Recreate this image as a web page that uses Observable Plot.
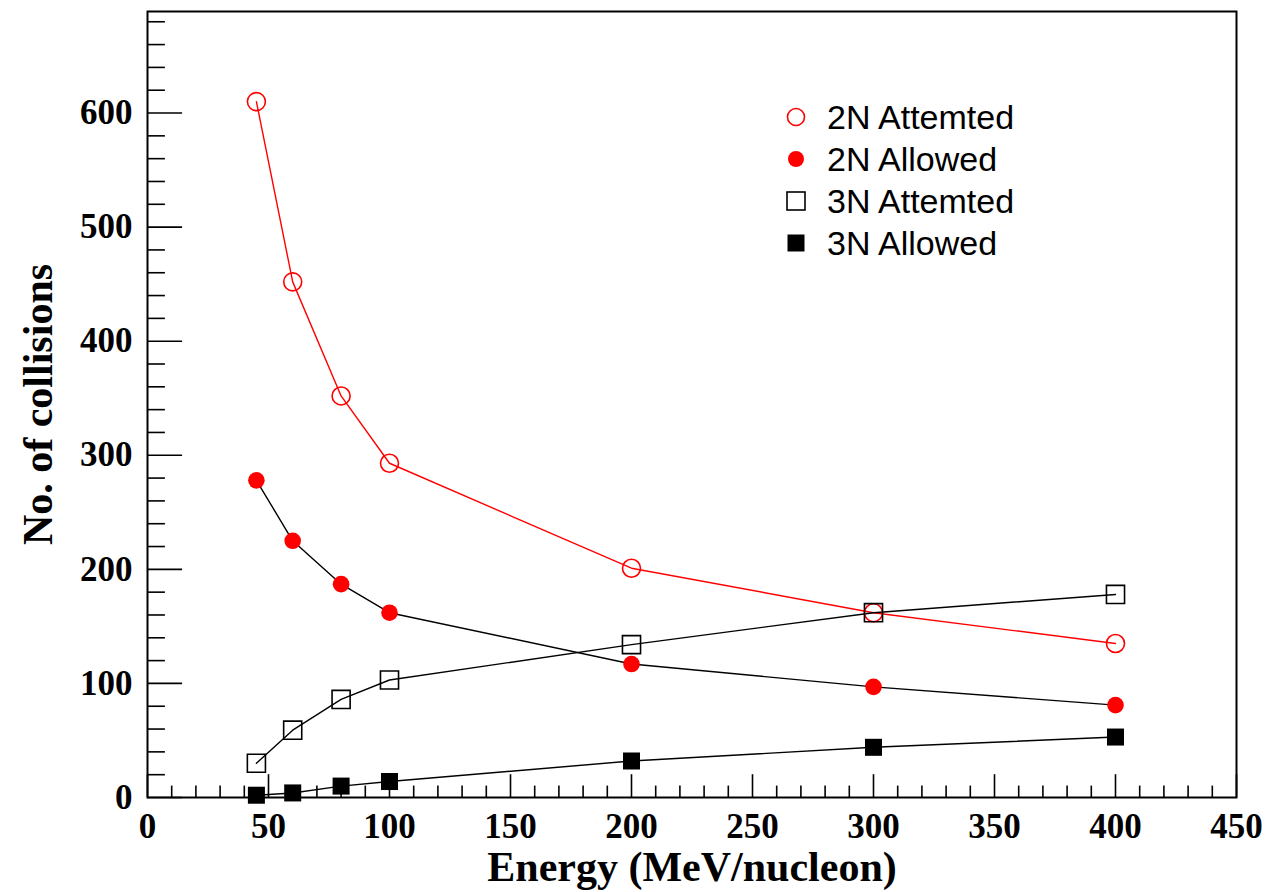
<!DOCTYPE html>
<html>
<head>
<meta charset="utf-8">
<script src="https://cdn.jsdelivr.net/npm/d3@7"></script>
<script src="https://cdn.jsdelivr.net/npm/@observablehq/plot@0.6"></script>
<style>
  html, body { margin: 0; padding: 0; background: #fff; }
  #wrap { position: relative; width: 1266px; height: 892px; }
  #legend { position: absolute; left: 776px; top: 96px; font-family: "Liberation Sans", Arial, sans-serif; font-size: 34px; color: #000; }
  #legend .row { height: 42px; display: flex; align-items: center; }
  #legend svg { width: 40px; height: 42px; margin-right: 11px; }
</style>
</head>
<body>
<div id="wrap">
  <div id="chart"></div>
  <div id="legend"></div>
</div>
<script>
// Beam energies (MeV/nucleon)
const energy = [45, 60, 80, 100, 200, 300, 400];

// Number of collisions per series
const attempted2N = [610, 452, 352, 293, 201, 162, 135];
const allowed2N   = [278, 225, 187, 162, 117, 97, 81];
const attempted3N = [30, 59, 86, 103, 134, 162, 178];
const allowed3N   = [2, 4, 10, 14, 32, 44, 53];

// Axis ticks
const xMajor = d3.range(0, 451, 50);
const xMinor = d3.range(0, 451, 10).filter(v => v % 50 !== 0);
const yMajor = d3.range(0, 601, 100);
const yMinor = d3.range(0, 681, 20).filter(v => v % 100 !== 0);

const seriesNames = ["2N Attemted", "2N Allowed", "3N Attemted", "3N Allowed"];
const seriesValues = [attempted2N, allowed2N, attempted3N, allowed3N];

const table = seriesNames.map((name, i) =>
  energy.map((e, j) => ({series: name, energy: e, count: seriesValues[i][j]}))
);

const RED = "#ff0000";
const BLK = "#000000";

const chart = Plot.plot({
  width: 1266,
  height: 892,
  marginLeft: 147,
  marginRight: 30,
  marginTop: 11,
  marginBottom: 95,
  style: {fontFamily: "'Liberation Serif', 'Times New Roman', serif", fontWeight: "bold", background: "#fff", overflow: "visible"},
  x: {domain: [0, 450]},
  y: {domain: [0, 689]},
  marks: [
    // inward tick marks on the bottom and left edges
    Plot.ruleX(xMinor, {y1: 0, y2: 10, stroke: BLK, strokeWidth: 1.6}),
    Plot.ruleX(xMajor, {y1: 0, y2: 20, stroke: BLK, strokeWidth: 1.6}),
    Plot.ruleY(yMinor, {x1: 0, x2: 7.4, stroke: BLK, strokeWidth: 1.6}),
    Plot.ruleY(yMajor, {x1: 0, x2: 14.5, stroke: BLK, strokeWidth: 1.6}),
    Plot.axisX({ticks: xMajor, tickSize: 0, tickPadding: 16, fontSize: 35, fontWeight: "bold", tickFormat: d => String(d), label: null}),
    Plot.axisY({ticks: yMajor, tickSize: 0, tickPadding: 15, fontSize: 35, fontWeight: "bold", tickFormat: d => String(d), label: null}),
    Plot.text(["Energy (MeV/nucleon)"], {frameAnchor: "bottom", textAnchor: "middle", dy: 83, fontSize: 42, fontWeight: "bold", fill: BLK}),
    Plot.text(["No. of collisions"], {frameAnchor: "left", textAnchor: "middle", dx: -109, rotate: -90, fontSize: 42, fontWeight: "bold", fill: BLK}),
    Plot.frame({stroke: BLK, strokeWidth: 2}),
    // connecting lines
    Plot.line(table[0], {x: "energy", y: "count", stroke: RED, strokeWidth: 1.4}),
    Plot.line(table[1], {x: "energy", y: "count", stroke: BLK, strokeWidth: 1.4}),
    Plot.line(table[2], {x: "energy", y: "count", stroke: BLK, strokeWidth: 1.4}),
    Plot.line(table[3], {x: "energy", y: "count", stroke: BLK, strokeWidth: 1.4}),
    // markers
    Plot.dot(table[0], {x: "energy", y: "count", r: 9, stroke: RED, fill: "none", strokeWidth: 1.6}),
    Plot.dot(table[1], {x: "energy", y: "count", r: 8.3, fill: RED, stroke: "none"}),
    Plot.dot(table[2], {x: "energy", y: "count", symbol: "square", r: 10.2, stroke: BLK, fill: "none", strokeWidth: 1.6}),
    Plot.dot(table[3], {x: "energy", y: "count", symbol: "square", r: 9.6, fill: BLK, stroke: "none"})
  ]
});
document.getElementById("chart").appendChild(chart);

// legend
const legendMarkers = [
  '<circle cx="20" cy="21" r="8.5" fill="none" stroke="' + RED + '" stroke-width="1.6"/>',
  '<circle cx="20" cy="21" r="8" fill="' + RED + '"/>',
  '<rect x="11" y="12" width="18" height="18" fill="none" stroke="' + BLK + '" stroke-width="1.6"/>',
  '<rect x="11.5" y="12.5" width="17" height="17" fill="' + BLK + '"/>'
];
const legend = document.getElementById("legend");
seriesNames.forEach((name, i) => {
  const row = document.createElement("div");
  row.className = "row";
  row.innerHTML = '<svg viewBox="0 0 40 42">' + legendMarkers[i] + '</svg><span>' + name + '</span>';
  legend.appendChild(row);
});
</script>
</body>
</html>
